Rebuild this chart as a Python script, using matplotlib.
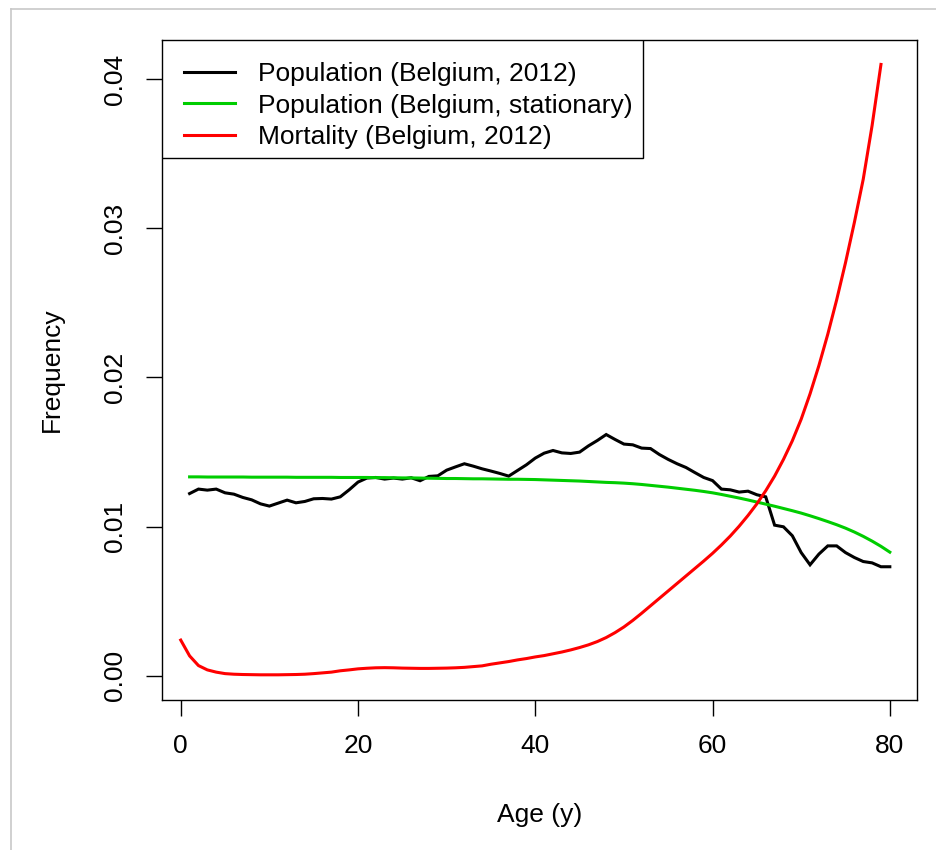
import numpy as np
import matplotlib
matplotlib.use("Agg")
import matplotlib.pyplot as plt
from matplotlib.lines import Line2D
from matplotlib.patches import Rectangle

plt.rcParams['font.family'] = ['Liberation Sans', 'DejaVu Sans']

# age-specific frequencies, Belgium
ages_pop = list(range(1, 81))
pop_2012 = [
    0.01221, 0.01251, 0.01244, 0.01251, 0.01226, 0.01217, 0.01195, 0.01179, 0.01152, 0.01137,
    0.01157, 0.01177, 0.01159, 0.01168, 0.01186, 0.01188, 0.01184, 0.01199, 0.01246, 0.01298,
    0.01325, 0.01329, 0.01318, 0.01325, 0.01318, 0.01327, 0.01307, 0.01336, 0.01340, 0.01378,
    0.01400, 0.01421, 0.01405, 0.01387, 0.01372, 0.01356, 0.01338, 0.01376, 0.01414, 0.01459,
    0.01492, 0.01510, 0.01494, 0.01490, 0.01499, 0.01541, 0.01577, 0.01617, 0.01584, 0.01553,
    0.01548, 0.01526, 0.01523, 0.01483, 0.01450, 0.01421, 0.01396, 0.01362, 0.01329, 0.01308,
    0.01251, 0.01246, 0.01231, 0.01237, 0.01213, 0.01199, 0.01009, 0.00998, 0.00938, 0.00825,
    0.00743, 0.00815, 0.00870, 0.00870, 0.00825, 0.00792, 0.00765, 0.00756, 0.00730, 0.00730,
]
pop_stationary = [
    0.01333, 0.01333, 0.01332, 0.01332, 0.01332, 0.01332, 0.01332, 0.01331, 0.01331, 0.01331,
    0.01331, 0.01331, 0.01330, 0.01330, 0.01330, 0.01330, 0.01330, 0.01329, 0.01329, 0.01329,
    0.01329, 0.01328, 0.01328, 0.01327, 0.01326, 0.01326, 0.01325, 0.01324, 0.01323, 0.01322,
    0.01322, 0.01321, 0.01320, 0.01320, 0.01319, 0.01318, 0.01317, 0.01317, 0.01316, 0.01315,
    0.01313, 0.01311, 0.01309, 0.01307, 0.01305, 0.01302, 0.01299, 0.01296, 0.01294, 0.01291,
    0.01287, 0.01282, 0.01276, 0.01270, 0.01264, 0.01257, 0.01250, 0.01243, 0.01235, 0.01226,
    0.01215, 0.01203, 0.01191, 0.01178, 0.01164, 0.01150, 0.01136, 0.01121, 0.01106, 0.01090,
    0.01072, 0.01053, 0.01033, 0.01012, 0.00989, 0.00963, 0.00934, 0.00902, 0.00867, 0.00828,
]
ages_mort = list(range(0, 80))
mort_2012 = [
    0.00238, 0.00132, 0.00067, 0.00038, 0.00023, 0.00013, 0.00009, 0.00007, 0.00006, 0.00005,
    0.00005, 0.00005, 0.00006, 0.00007, 0.00009, 0.00013, 0.00018, 0.00023, 0.00032, 0.00038,
    0.00045, 0.00049, 0.00052, 0.00053, 0.00052, 0.00050, 0.00049, 0.00048, 0.00048, 0.00049,
    0.00050, 0.00052, 0.00055, 0.00060, 0.00065, 0.00076, 0.00085, 0.00094, 0.00105, 0.00114,
    0.00125, 0.00134, 0.00146, 0.00158, 0.00172, 0.00188, 0.00206, 0.00228, 0.00255, 0.00288,
    0.00326, 0.00370, 0.00418, 0.00468, 0.00518, 0.00568, 0.00618, 0.00668, 0.00718, 0.00768,
    0.00820, 0.00876, 0.00936, 0.01002, 0.01074, 0.01152, 0.01240, 0.01338, 0.01450, 0.01575,
    0.01720, 0.01890, 0.02080, 0.02290, 0.02520, 0.02770, 0.03040, 0.03330, 0.03690, 0.04100,
]
labels = ["Population (Belgium, 2012)", "Population (Belgium, stationary)",
          "Mortality (Belgium, 2012)"]
colors = ["black", "#00cd00", "red"]

W, H = 936, 850
fig = plt.figure(figsize=(W / 100, H / 100), dpi=100)
L, R, T, B = 161.5, 917.3, 40, 700
ax = fig.add_axes([L / W, 1 - B / H, (R - L) / W, (B - T) / H])

lw = 2.2
ax.plot(ages_pop, pop_2012, color=colors[0], lw=lw, solid_joinstyle='miter')
ax.plot(ages_pop, pop_stationary, color=colors[1], lw=lw)
ax.plot(ages_mort, mort_2012, color=colors[2], lw=lw)

ax.set_xlim(-2.17, 83.1)
ax.set_ylim(-0.00164, 0.04264)
ax.set_xticks([0, 20, 40, 60, 80])
ax.set_yticks([0.00, 0.01, 0.02, 0.03, 0.04])
ax.set_yticklabels(["0.00", "0.01", "0.02", "0.03", "0.04"], rotation=90, va='center')
ax.tick_params(axis='both', length=11.5, width=1.0, labelsize=19, direction='out')
ax.tick_params(axis='x', pad=13)
ax.tick_params(axis='y', pad=13)
for s in ax.spines.values():
    s.set_linewidth(1.0)

fig.text(539.4 / W, 1 - 815 / H, "Age (y)", fontsize=19, ha='center', va='center')
fig.text(52 / W, 1 - 370 / H, "Frequency", fontsize=19, ha='center', va='center',
         rotation=90)

# legend box in the top-left corner
bx = (643 - L) / (R - L)
by = (B - 158) / (B - T)
ax.add_patch(Rectangle((0, by), bx, 1 - by, transform=ax.transAxes, fill=True,
                       facecolor='white', edgecolor='black', lw=1.0, zorder=5))
handles = [Line2D([], [], color=c, lw=lw) for c in colors]
ax.legend(handles, labels, loc='upper left', bbox_to_anchor=(0.0013, 1.0),
          frameon=False, fontsize=19, handlelength=1.9, handletextpad=0.9,
          labelspacing=0.29, borderpad=0.83, borderaxespad=0)
ax.get_legend().set_zorder(6)

# thin grey frame along the top and left edges
fig.add_artist(Line2D([11 / W, 1], [1 - 9 / H, 1 - 9 / H], color='#c8c8c8', lw=1.2))
fig.add_artist(Line2D([11 / W, 11 / W], [0, 1 - 9 / H], color='#c8c8c8', lw=1.2))

fig.savefig("out.png", dpi=100)
